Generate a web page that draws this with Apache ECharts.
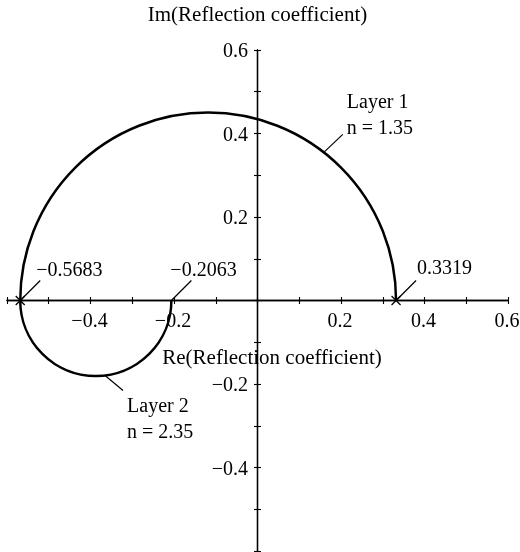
<!DOCTYPE html>
<html>
<head>
<meta charset="utf-8">
<script src="https://cdn.jsdelivr.net/npm/echarts@6/dist/echarts.min.js"></script>
<style>
  html, body { margin: 0; padding: 0; background: #fff; }
  #chart { width: 520px; height: 552px; }
</style>
</head>
<body>
<div id="chart"></div>
<script>
// Tick values that carry a printed label on each axis
const xTickLabels = [-0.4, -0.2, 0.2, 0.4, 0.6];
const yTickLabels = [-0.4, -0.2, 0.2, 0.4, 0.6];

// Each layer traces a half circle on the real axis, from its start value to its end value
const layerNames = ['Layer 1', 'Layer 2'];
const layerIndices = ['n = 1.35', 'n = 2.35'];
const layerStartRe = [0.3319, -0.5683];
const layerEndRe = [-0.5683, -0.2063];

// Real-axis points marked with a cross, and real-axis points given a value callout
const crossRe = [0.3319, -0.5683];
const calloutRe = [-0.5683, -0.2063, 0.3319];

// ---- styling ----
const FONT = 'Liberation Serif';
const FS = 20;
const TITLE_FS = 21;
const INK = '#000';
const fontOf = size => size + 'px "' + FONT + '"';

// Where along each half circle (0..1) the layer callout leader starts, and its offsets
const layerCallout = [
  { at: 0.289, lead: [19, -18], text: [4, -32], lineGap: 26 },
  { at: 0.539, lead: [18, 15], text: [4, 16], lineGap: 26 }
];
// Text offsets (from the leader end) for each real-axis value callout
const valueCallout = [
  { dx: -4, dy: -10 },
  { dx: -21, dy: -10 },
  { dx: 1, dy: -12 }
];

function fmt(v, d) {
  return (v < 0 ? '\u2212' : '') + Math.abs(v).toFixed(d);
}

// Two axes per dimension share the zero line: one ticks outward, one inward,
// so the ticks cross the axis line.
function makeAxis(dim, inside, extra) {
  return Object.assign({
    type: 'value',
    min: -0.6,
    max: 0.6,
    interval: 0.1,
    position: dim === 'x' ? 'bottom' : 'left',
    splitLine: { show: false },
    axisLine: { show: true, onZero: true, lineStyle: { color: INK, width: 1.3 } },
    axisTick: { show: true, inside: inside, length: 3.5, lineStyle: { color: INK, width: 1.1 } },
    axisLabel: { show: false }
  }, extra || {});
}

const layerData = layerStartRe.map((s, i) => [s, layerEndRe[i]]);
// tick label items: [value, axis flag] (0 = real axis, 1 = imaginary axis)
const tickLabelData = xTickLabels.map(v => [v, 0]).concat(yTickLabels.map(v => [v, 1]));

const option = {
  animation: false,
  backgroundColor: '#fff',
  grid: { left: 7, right: 12, top: 50, bottom: 1, containLabel: false, outerBoundsMode: 'none' },
  xAxis: [makeAxis('x', false), makeAxis('x', true)],
  yAxis: [
    makeAxis('y', false, {
      name: 'Im(Reflection coefficient)',
      nameLocation: 'end',
      nameGap: 24,
      nameTextStyle: { color: INK, fontFamily: FONT, fontSize: TITLE_FS }
    }),
    makeAxis('y', true)
  ],
  series: [
    {
      // tick labels along both zero-crossing axes, plus the real-axis title
      type: 'custom',
      name: 'tickLabels',
      xAxisIndex: 0,
      yAxisIndex: 0,
      data: tickLabelData,
      renderItem: function (params, api) {
        const v = api.value(0);
        const onY = api.value(1) === 1;
        const p = onY ? api.coord([0, v]) : api.coord([v, 0]);
        const children = [{
          type: 'text',
          style: onY
            ? { x: p[0] - 9.5, y: p[1] + 2, text: fmt(v, 1), fill: INK, font: fontOf(FS),
                align: 'right', verticalAlign: 'middle' }
            : { x: p[0] - 1, y: p[1] + 21, text: fmt(v, 1), fill: INK, font: fontOf(FS),
                align: 'center', verticalAlign: 'middle' }
        }];
        if (params.dataIndex === 0) {
          const o = api.coord([0, 0]);
          children.push({
            type: 'text',
            style: { x: o[0] + 14.5, y: o[1] + 58, text: 'Re(Reflection coefficient)', fill: INK,
              font: fontOf(TITLE_FS), align: 'center', verticalAlign: 'middle' }
          });
        }
        return { type: 'group', children: children };
      }
    },
    {
      // half-circle loci of the two layers, with their name callouts
      type: 'custom',
      name: 'layers',
      xAxisIndex: 0,
      yAxisIndex: 0,
      data: layerData,
      renderItem: function (params, api) {
        const i = params.dataIndex;
        const a = api.value(0), b = api.value(1);
        const pa = api.coord([a, 0]);
        const pb = api.coord([b, 0]);
        const cx = (pa[0] + pb[0]) / 2, cy = pa[1];
        const R = Math.abs(pa[0] - pb[0]) / 2;
        const upper = a > b;  // counter-clockwise from the start point
        const t0 = upper ? 0 : Math.PI;
        const cfg = layerCallout[i];
        const th = t0 + Math.PI * cfg.at;
        const ax = cx + R * Math.cos(th), ay = cy - R * Math.sin(th);
        const ex = ax + cfg.lead[0], ey = ay + cfg.lead[1];
        const tx = ex + cfg.text[0], ty = ey + cfg.text[1];
        return {
          type: 'group',
          children: [
            {
              type: 'arc',
              shape: { cx: cx, cy: cy, r: R,
                startAngle: upper ? Math.PI : 0,
                endAngle: upper ? 2 * Math.PI : Math.PI,
                clockwise: true },
              style: { stroke: INK, fill: 'none', lineWidth: 2.5 }
            },
            {
              type: 'line',
              shape: { x1: ax, y1: ay, x2: ex, y2: ey },
              style: { stroke: INK, lineWidth: 1.2 }
            },
            {
              type: 'text',
              style: { x: tx, y: ty, text: layerNames[i], fill: INK,
                font: fontOf(FS), align: 'left', verticalAlign: 'middle' }
            },
            {
              type: 'text',
              style: { x: tx, y: ty + cfg.lineGap, text: layerIndices[i], fill: INK,
                font: fontOf(FS), align: 'left', verticalAlign: 'middle' }
            }
          ]
        };
      }
    },
    {
      // cross markers on the real axis
      type: 'custom',
      name: 'crosses',
      xAxisIndex: 0,
      yAxisIndex: 0,
      data: crossRe.map(v => [v, 0]),
      renderItem: function (params, api) {
        const p = api.coord([api.value(0), api.value(1)]);
        const h = 4.5;
        return {
          type: 'group',
          children: [
            { type: 'line', shape: { x1: p[0] - h, y1: p[1] - h, x2: p[0] + h, y2: p[1] + h },
              style: { stroke: INK, lineWidth: 1.3 } },
            { type: 'line', shape: { x1: p[0] - h, y1: p[1] + h, x2: p[0] + h, y2: p[1] - h },
              style: { stroke: INK, lineWidth: 1.3 } }
          ]
        };
      }
    },
    {
      // value callouts for the arc end points
      type: 'custom',
      name: 'values',
      xAxisIndex: 0,
      yAxisIndex: 0,
      data: calloutRe.map(v => [v, 0]),
      renderItem: function (params, api) {
        const i = params.dataIndex;
        const v = api.value(0);
        const p = api.coord([v, 0]);
        const ex = p[0] + 20, ey = p[1] - 20;
        const o = valueCallout[i];
        return {
          type: 'group',
          children: [
            { type: 'line', shape: { x1: p[0], y1: p[1], x2: ex, y2: ey },
              style: { stroke: INK, lineWidth: 1.2 } },
            { type: 'text',
              style: { x: ex + o.dx, y: ey + o.dy, text: fmt(v, 4), fill: INK,
                font: fontOf(FS), align: 'left', verticalAlign: 'middle' } }
          ]
        };
      }
    }
  ]
};

const chart = echarts.init(document.getElementById('chart'), null, { renderer: 'canvas' });
chart.setOption(option);
</script>
</body>
</html>
